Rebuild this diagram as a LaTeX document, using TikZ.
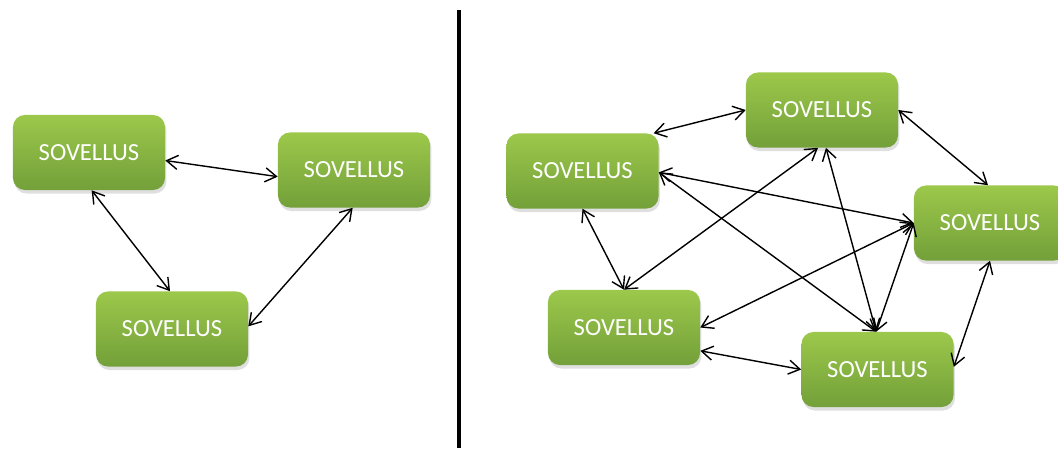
\documentclass[tikz,border=0pt]{standalone}
\usepackage{fontspec}
\setmainfont{Carlito}
\usetikzlibrary{arrows.meta,shadows}
\definecolor{sovtop}{HTML}{9CC84B}
\definecolor{sovbottom}{HTML}{73A039}
\begin{document}
\begin{tikzpicture}[x=0.025cm,y=-0.025cm,
  sovellus/.style={rectangle,rounded corners=0.3cm,minimum width=3.8cm,minimum height=1.875cm,
    inner sep=0pt,top color=sovtop,bottom color=sovbottom,text=white,
    font=\fontsize{17.5}{20}\selectfont,
    drop shadow={shadow xshift=1pt,shadow yshift=-2.5pt,opacity=0.25}},
  >={Straight Barb[length=8pt,width=10pt]},
  thick/.style={line width=1pt}]
\useasboundingbox (0,0) rectangle (1058,448);

\node[sovellus] (1a) at (89,152.5) {SOVELLUS};
\node[sovellus] (2a) at (354,170) {SOVELLUS};
\node[sovellus] (3a) at (172,329) {SOVELLUS};
\path[draw,thick,<->] (1a.-6) -- (2a.185);
\path[draw,thick,<->] (1a.274) -- (3a.93);
\path[draw,thick,<->] (3a.2) -- (2a.268);

\draw[line width=2.2pt] (459,10) -- (459,448);

\node[sovellus] (1b) at (582.5,171) {SOVELLUS};
\node[sovellus] (2b) at (822,110) {SOVELLUS};
\node[sovellus] (3b) at (990,223) {SOVELLUS};
\node[sovellus] (4b) at (624,327.5) {SOVELLUS};
\node[sovellus] (5b) at (877.5,369.5) {SOVELLUS};
\path[draw,thick,<->] (1b.28) -- (2b.180);
\path[draw,thick,<->] (2b.0) -- (3b.93);
\path[draw,thick,<->] (3b.270) -- (5b.2);
\path[draw,thick,<->] (5b.180) -- (4b.343);
\path[draw,thick,<->] (4b.90) -- (1b.270);
\path[draw,thick,<->] (1b.-1) -- (3b.180);
\path[draw,thick,<->] (1b.-1) -- (5b.92);
\path[draw,thick,<->] (2b.264) -- (4b.90);
\path[draw,thick,<->] (2b.276) -- (5b.92);
\path[draw,thick,<->] (4b.0) -- (3b.180);
\path[draw,thick,<->] (3b.180) -- (5b.92);
\end{tikzpicture}
\end{document}
